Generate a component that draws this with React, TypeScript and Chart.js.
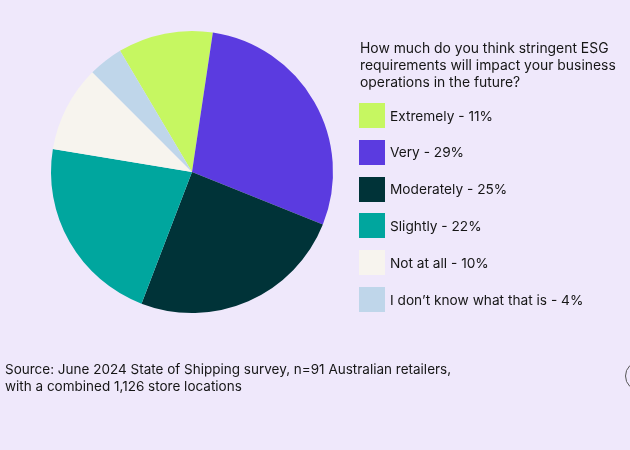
import React, { useEffect, useRef } from "react";
import { Chart, registerables } from "chart.js";

Chart.register(...registerables);

const categories = ["Extremely", "Very", "Moderately", "Slightly", "Not at all", "I don't know what that is"];
const values = [11, 29, 25, 22, 10, 4];
const legendLabels = ["Extremely - 11%", "Very - 29%", "Moderately - 25%", "Slightly - 22%", "Not at all - 10%", "I don\u2019t know what that is - 4%"];
const colors = ["#c6f761", "#5b3be0", "#003338", "#00a69e", "#f7f4ee", "#bfd6ea"];
const titleLines = ["How much do you think stringent ESG", "requirements will impact your business", "operations in the future?"];
const sourceLines = ["Source: June 2024 State of Shipping survey, n=91 Australian retailers,", "with a combined 1,126 store locations"];

const FONT = "Inter, 'DejaVu Sans', sans-serif";

export default function App() {
  const ref = useRef<HTMLCanvasElement | null>(null);

  useEffect(() => {
    document.body.style.margin = "0";
    document.body.style.overflow = "hidden";
    document.body.style.background = "#efe8fb";
    const chart = new Chart(ref.current!, {
      type: "pie",
      data: {
        labels: categories,
        datasets: [
          {
            data: values,
            backgroundColor: colors,
            borderWidth: 0,
          },
        ],
      },
      options: {
        animation: false,
        responsive: false,
        rotation: -30.7,
        layout: { padding: { left: 51, top: 31, right: 297, bottom: 137 } },
        plugins: { legend: { display: false }, tooltip: { enabled: false } },
      },
    });
    return () => chart.destroy();
  }, []);

  return (
    <div style={{ position: "relative", width: 630, height: 450, background: "#efe8fb", overflow: "hidden", fontFamily: FONT, color: "#161616" }}>
      <canvas ref={ref} width={630} height={450} style={{ position: "absolute", left: 0, top: 0 }} />
      <div style={{ position: "absolute", left: 360, top: 40, fontSize: 13.9, lineHeight: "17px" }}>
        {titleLines.map((t, i) => (
          <div key={i} style={{ whiteSpace: "nowrap" }}>{t}</div>
        ))}
      </div>
      {legendLabels.map((l, i) => (
        <div key={i} style={{ position: "absolute", left: 359, top: 103 + i * 36.8, height: 25, display: "flex", alignItems: "center", fontSize: 13.7, whiteSpace: "nowrap" }}>
          <div style={{ width: 26, height: 25, background: colors[i], marginRight: 5 }} />
          <span>{l}</span>
        </div>
      ))}
      <div style={{ position: "absolute", left: 5, top: 361, fontSize: 13.5, lineHeight: "16.5px" }}>
        {sourceLines.map((t, i) => (
          <div key={i} style={{ whiteSpace: "nowrap" }}>{t}</div>
        ))}
      </div>
      <div style={{ position: "absolute", left: 625, top: 361, width: 30, height: 30, borderRadius: "50%", border: "1.5px solid #555", boxSizing: "border-box" }} />
    </div>
  );
}
